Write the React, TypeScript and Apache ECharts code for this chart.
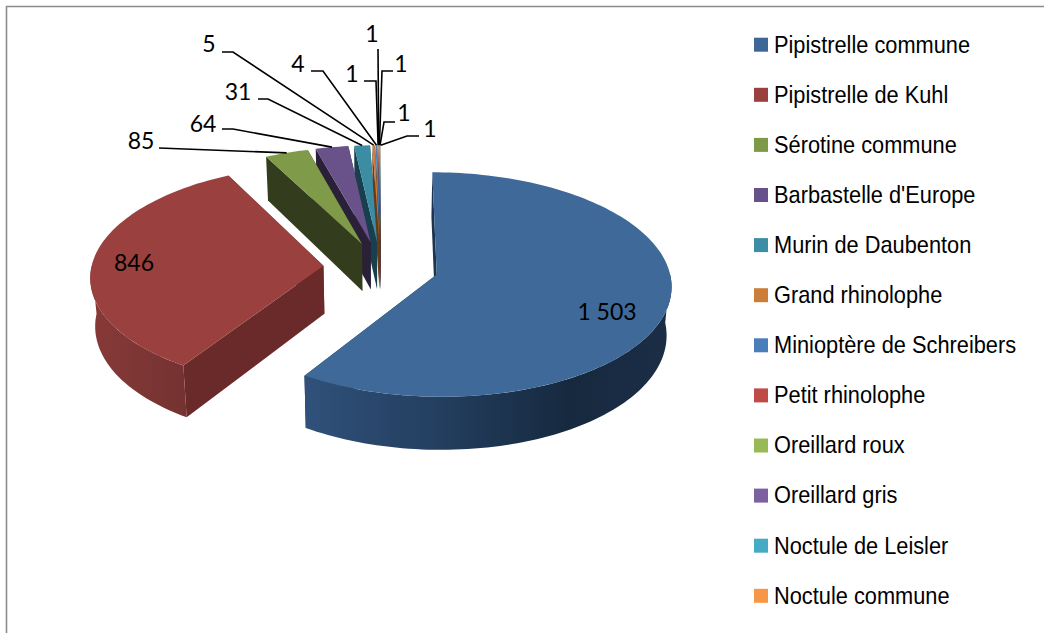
import React, { useEffect, useRef } from "react";
import * as echarts from "echarts";

const names = ["Pipistrelle commune", "Pipistrelle de Kuhl", "Sérotine commune", "Barbastelle d'Europe", "Murin de Daubenton", "Grand rhinolophe", "Minioptère de Schreibers", "Petit rhinolophe", "Oreillard roux", "Oreillard gris", "Noctule de Leisler", "Noctule commune"];
const values = [1503, 846, 85, 64, 31, 5, 4, 1, 1, 1, 1, 1];
const labels = ["1 503", "846", "85", "64", "31", "5", "4", "1", "1", "1", "1", "1"];
const topColors = ["#3E6998", "#9A403E", "#7F9A48", "#69518A", "#3C8DA3", "#CC7B38", "#4A7EBB", "#BE4B48", "#98B954", "#7D60A0", "#46AAC5", "#F79646"];
const wallColors = ["#1D3450", "#6B2A2A", "#333C1C", "#2A2139", "#173F4D", "#6A3A14", "#1F3F63", "#6A2A28", "#4E5F2A", "#3F3052", "#20566A", "#8A4F1E"];
const legendColors = ["#3E6797", "#9A3F3D", "#7E9A48", "#67518A", "#3C8DA5", "#CC7D38", "#4A7EBB", "#BE4B48", "#98B954", "#7D60A0", "#46AAC5", "#F79646"];
// label centre and elbow of each leader (layout only)
const labelPos: number[][] = [[607, 311], [134, 262], [141, 140], [203, 123], [238, 91], [209, 43], [298, 63], [352, 73], [372, 33], [401, 63], [404, 112], [430, 128]];
const elbows: (number[][] | null)[] = [null, null, [[159, 148]], [[222, 129], [233, 129]], [[258, 99], [268, 99]], [[222, 52], [233, 52]], [[311, 71], [323, 71]], [[364, 81], [376, 81]], [[378, 49]], [[393, 71], [382, 71]], [[395, 122], [384, 122]], [[419, 136], [407, 136]]];
// small screen offset of each exploded slice (layout only)
const nudges: number[][] = [[4, 0], [0, 0], [3, 1], [2, 1], [2, 1], [2, 1], [2, 1], [2, 1], [2, 1], [2, 1], [2, 1], [2, 1]];

const CX = 379, CY = 267, A = 232, B = 110, K = 0.089, D = 0.24, H = 48, Q = 0.983;
const LEGEND_X = 754, LEGEND_Y = 37.7, LEGEND_STEP = 50.1, LEGEND_SIZE = 14, LEGEND_TEXT_X = 774;
const total = values.reduce((s, v) => s + v, 0);
const rad = (d: number) => (d * Math.PI) / 180;

function sliceAngles(i: number) {
  let a = 0;
  for (let j = 0; j < i; j++) a += (values[j] / total) * 360;
  return [a, a + (values[i] / total) * 360];
}
function project(X: number, Z: number) {
  const p = 1 / (1 + K * Z);
  return [CX + A * X * p, CY - B * Z * p, p];
}
function lower(pt: number[]) {
  return [CX + (pt[0] - CX) * Q, pt[1] + H * pt[2]];
}

function buildSlice(i: number) {
  const [a0, a1] = sliceAngles(i);
  const mid = rad((a0 + a1) / 2);
  const ox = D * Math.sin(mid), oz = D * Math.cos(mid);
  const at = (deg: number, r = 1) => {
    const p = project(ox + r * Math.sin(rad(deg)), oz + r * Math.cos(rad(deg)));
    return [p[0] + nudges[i][0], p[1] + nudges[i][1], p[2]];
  };
  const apex = at(0, 0);
  const xy = (p: number[]) => [p[0], p[1]];
  const arc = (s: number, e: number) => {
    const n = Math.max(2, Math.ceil((e - s) / 1.5));
    const r: number[][] = [];
    for (let k = 0; k <= n; k++) r.push(at(s + ((e - s) * k) / n));
    return r;
  };
  const children: any[] = [];
  const wall = (deg: number) => {
    const rim = at(deg);
    children.push({ type: "polygon", shape: { points: [xy(apex), xy(rim), lower(rim), lower(apex)] }, style: { fill: wallColors[i] } });
  };
  wall(a1);
  wall(a0);
  const rs = Math.max(a0, 90), re = Math.min(a1, 270);
  if (re > rs) {
    const top = arc(rs, re);
    const pts = [...top.map(xy), ...top.slice().reverse().map(lower)];
    const fill = i === 0
      ? new echarts.graphic.LinearGradient(0, 0, 1, 0, [
          { offset: 0, color: "#30517A" },
          { offset: 0.35, color: "#243F60" },
          { offset: 0.72, color: "#16293F" },
          { offset: 1, color: "#1B2E46" },
        ])
      : new echarts.graphic.LinearGradient(0, 0, 1, 0, [
          { offset: 0, color: "#873A38" },
          { offset: 1, color: "#743231" },
        ]);
    children.push({ type: "polygon", shape: { points: pts }, style: { fill } });
  }
  children.push({ type: "polygon", shape: { points: [xy(apex), ...arc(a0, a1).map(xy)] }, style: { fill: topColors[i] } });
  const elbow = elbows[i];
  if (elbow) {
    children.push({ type: "polyline", shape: { points: [...elbow, xy(at((a0 + a1) / 2))] }, style: { stroke: "#000", lineWidth: 1.6, fill: "none" } });
  }
  children.push({
    type: "text",
    style: { text: labels[i], x: labelPos[i][0], y: labelPos[i][1], fill: "#000", font: "23px Lato", align: "center", verticalAlign: "middle" },
  });
  return { type: "group", children };
}

export default function App() {
  const ref = useRef<HTMLDivElement>(null);
  useEffect(() => {
    const chart = echarts.init(ref.current!, null, { renderer: "svg" });
    const legendMarks = names.flatMap((name, i) => [
      { type: "rect", silent: true, shape: { x: LEGEND_X, y: LEGEND_Y + i * LEGEND_STEP, width: LEGEND_SIZE, height: LEGEND_SIZE }, style: { fill: legendColors[i] } },
      {
        type: "text",
        silent: true,
        x: LEGEND_TEXT_X,
        y: LEGEND_Y + LEGEND_SIZE / 2 + i * LEGEND_STEP - 0.5,
        scaleX: 0.908,
        style: { text: name, x: 0, y: 0, fill: "#000", font: "24px 'Liberation Sans'", align: "left", verticalAlign: "middle" },
      },
    ]);
    chart.setOption({
      animation: false,
      backgroundColor: "#fff",
      graphic: [
        { type: "polyline", silent: true, shape: { points: [[6.5, 633], [6.5, 6.5], [1044, 6.5]] }, style: { stroke: "#8C8C8C", lineWidth: 1.6, fill: "none" } },
        ...legendMarks,
      ],
      series: names.map((name, i) => ({
        type: "custom",
        name,
        coordinateSystem: "none",
        silent: true,
        z: i < 2 ? 2 : 20 - i,
        itemStyle: { color: legendColors[i] },
        data: [values[i]],
        renderItem: () => buildSlice(i),
      })),
    });
    return () => chart.dispose();
  }, []);
  return <div ref={ref} style={{ position: "absolute", left: 0, top: 0, width: 1044, height: 633 }} />;
}
